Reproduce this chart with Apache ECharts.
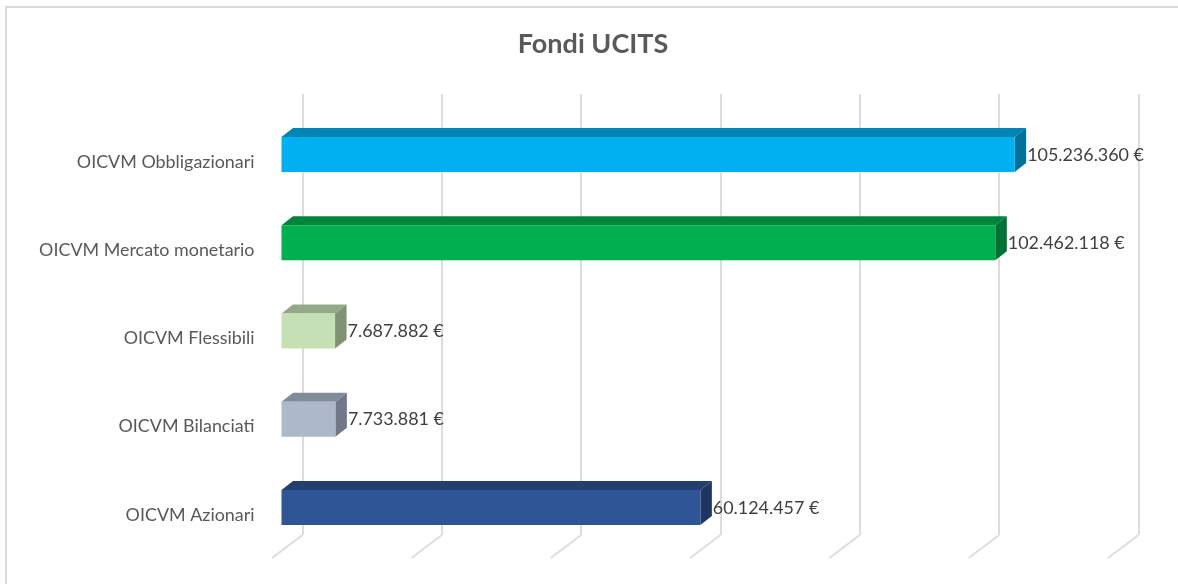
<!DOCTYPE html>
<html>
<head>
<meta charset="utf-8">
<title>Fondi UCITS</title>
<style>
  html, body { margin: 0; padding: 0; background: #fff; }
  #chart { width: 1178px; height: 584px; }
</style>
<script src="https://cdn.jsdelivr.net/npm/echarts@6/dist/echarts.min.js"></script>
</head>
<body>
<div id="chart"></div>
<script>
// dati, dal basso verso l'alto
const categories = ['OICVM Azionari', 'OICVM Bilanciati', 'OICVM Flessibili', 'OICVM Mercato monetario', 'OICVM Obbligazionari'];
const values = [60124457, 7733881, 7687882, 102462118, 105236360];
const axisTicks = [0, 20000000, 40000000, 60000000, 80000000, 100000000, 120000000];

// front, top, side
const faceColors = [
  ['#2F5597', '#233F71', '#1E3661'],
  ['#ADB9CA', '#828B98', '#70788A'],
  ['#C5E0B4', '#94A987', '#7F9274'],
  ['#00B050', '#00843C', '#007234'],
  ['#00B0F0', '#0084B4', '#00729C']
];

const FONT = 'Lato';
const DEPTH_X = 11.5, DEPTH_Y = 9;      // falso 3d
const SHIFT_X = -21, SHIFT_Y = 16.5;    // il fronte delle barre sta davanti alla parete
const BAR_H = 35;

function euro(v) {
  return String(v).replace(/\B(?=(\d{3})+$)/g, '.') + ' €';
}

function renderBar(params, api) {
  const i = api.value(1);
  const start = api.coord([0, i]);
  const end = api.coord([api.value(0), i]);
  const x0 = start[0] + SHIFT_X, x1 = end[0] + SHIFT_X;
  const y0 = start[1] + SHIFT_Y - BAR_H / 2, y1 = y0 + BAR_H;
  const c = faceColors[i];
  return {
    type: 'group',
    children: [
      { type: 'polygon', shape: { points: [[x0, y0], [x0 + DEPTH_X, y0 - DEPTH_Y], [x1 + DEPTH_X, y0 - DEPTH_Y], [x1, y0]] }, style: { fill: c[1] } },
      { type: 'polygon', shape: { points: [[x1, y0], [x1 + DEPTH_X, y0 - DEPTH_Y], [x1 + DEPTH_X, y1 - DEPTH_Y], [x1, y1]] }, style: { fill: c[2] } },
      { type: 'rect', shape: { x: x0, y: y0, width: x1 - x0, height: BAR_H }, style: { fill: c[0] } },
      {
        type: 'text',
        style: {
          x: x1 + DEPTH_X + 1, y: y0 + BAR_H / 2 + 0.5,
          text: euro(api.value(0)),
          font: '17.9px ' + FONT, fill: '#404040',
          align: 'left', verticalAlign: 'middle'
        }
      }
    ]
  };
}

// tratti del pavimento sotto le linee della griglia
function renderFloor(params, api) {
  const x = api.coord([api.value(0), 0])[0];
  const bottom = params.coordSys.y + params.coordSys.height;
  return {
    type: 'line',
    shape: { x1: x, y1: bottom, x2: x - 30.5, y2: bottom + 23 },
    style: { stroke: '#DDDDDD', lineWidth: 2 }
  };
}

const chart = echarts.init(document.getElementById('chart'));
chart.setOption({
  animation: false,
  title: {
    text: 'Fondi UCITS',
    left: 588,
    top: 39,
    textAlign: 'center',
    textVerticalAlign: 'middle',
    textStyle: { fontFamily: FONT, fontSize: 27, fontWeight: 'bold', color: '#595959' }
  },
  graphic: [{
    type: 'rect',
    silent: true,
    shape: { x: 6, y: 7, width: 1300, height: 700 },
    style: { fill: 'none', stroke: '#D9D9D9', lineWidth: 2 }
  }],
  grid: { left: 302.5, right: 39.5, top: 94, bottom: 49 },
  xAxis: {
    type: 'value',
    min: 0,
    max: 120000000,
    interval: 20000000,
    axisLine: { show: false },
    axisTick: { show: false },
    axisLabel: { show: false },
    splitLine: { show: true, lineStyle: { color: '#DDDDDD', width: 2 } }
  },
  yAxis: {
    type: 'category',
    data: categories,
    axisLine: { show: false },
    axisTick: { show: false },
    axisLabel: {
      margin: 48,
      verticalAlign: 'top',
      lineHeight: 48,
      fontFamily: FONT,
      fontSize: 17.9,
      color: '#595959'
    }
  },
  series: [
    {
      type: 'custom',
      coordinateSystem: 'cartesian2d',
      renderItem: renderFloor,
      encode: { x: 0 },
      data: axisTicks.map(function (t) { return [t]; }),
      silent: true,
      clip: false
    },
    {
      type: 'custom',
      coordinateSystem: 'cartesian2d',
      renderItem: renderBar,
      encode: { x: 0, y: 1 },
      data: values.map(function (v, i) { return [v, i]; }),
      clip: false,
      z: 5
    }
  ]
});
</script>
</body>
</html>
